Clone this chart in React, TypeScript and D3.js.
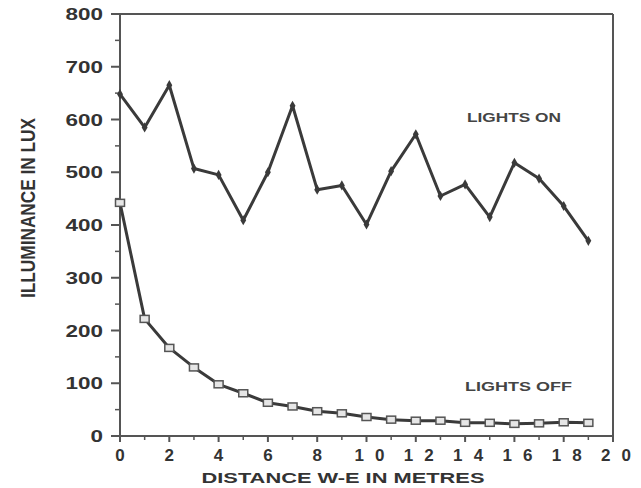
import React from "react";
import * as d3 from "d3";

const distances = [0, 1, 2, 3, 4, 5, 6, 7, 8, 9, 10, 11, 12, 13, 14, 15, 16, 17, 18, 19];
const lightsOn = [648, 585, 665, 507, 495, 409, 500, 626, 467, 475, 401, 502, 572, 455, 477, 415, 518, 488, 436, 370];
const lightsOff = [442, 222, 167, 130, 98, 81, 63, 56, 47, 43, 36, 31, 29, 29, 25, 25, 23, 24, 26, 25];
const yTicks = [0, 100, 200, 300, 400, 500, 600, 700, 800];
const yMinor = [50, 150, 250, 350, 450, 550, 650, 750];
const xTicks = [0, 2, 4, 6, 8, 10, 12, 14, 16, 18, 20];
const xMinor = [1, 3, 5, 7, 9, 11, 13, 15, 17, 19];

const W = 641, H = 488;
const L = 120, R = 613, T = 14, B = 436;
const ink = "#3a3a3a";
const axisInk = "#555";
const font = "'Liberation Sans', Arial, sans-serif";

export default function App() {
  const x = d3.scaleLinear().domain([0, 20]).range([L, R]);
  const y = d3.scaleLinear().domain([0, 800]).range([B, T]);
  const line = d3.line<number>().x((_, i) => x(distances[i])).y((d) => y(d));
  const diamond = d3.symbol().type(d3.symbolDiamond).size(30)();

  return (
    <svg width={W} height={H} style={{ position: "absolute", left: 0, top: 0, background: "#fff" }}>
      <rect width={W} height={H} fill="#fff" />
      {/* frame */}
      <line x1={L} y1={T} x2={L} y2={B} stroke={axisInk} strokeWidth={2} />
      <line x1={L} y1={B} x2={R} y2={B} stroke={axisInk} strokeWidth={2} />
      <line x1={R} y1={T} x2={R} y2={B} stroke={axisInk} strokeWidth={2} />
      <line x1={L - 9} y1={T} x2={R} y2={T} stroke={axisInk} strokeWidth={2} />
      {/* y ticks */}
      {yTicks.map((t) => (
        <g key={"y" + t}>
          <line x1={L - 9} x2={L} y1={y(t)} y2={y(t)} stroke={axisInk} strokeWidth={2} />
          <text x={103} y={y(t) + 6} textAnchor="end" fontFamily={font} fontWeight="bold" fontSize={17}
            fill="#333" textLength={String(t).length * 12.5} lengthAdjust="spacingAndGlyphs">{t}</text>
        </g>
      ))}
      {yMinor.map((t) => (
        <line key={"ym" + t} x1={L - 5} x2={L} y1={y(t)} y2={y(t)} stroke={axisInk} strokeWidth={1.5} />
      ))}
      {/* x ticks */}
      {xTicks.map((t) => (
        <g key={"x" + t}>
          <line x1={x(t)} x2={x(t)} y1={B} y2={B + 6} stroke={axisInk} strokeWidth={2} />
          <text x={x(t) + (String(t).length > 1 ? 3 : 0)} y={B + 25} textAnchor="middle" fontFamily={font} fontWeight="bold" fontSize={17}
            fill="#333" textLength={String(t).length > 1 ? 30 : 12} lengthAdjust="spacing">{t}</text>
        </g>
      ))}
      {xMinor.map((t) => (
        <line key={"xm" + t} x1={x(t)} x2={x(t)} y1={B} y2={B + 4} stroke={axisInk} strokeWidth={1.5} />
      ))}
      {/* axis titles */}
      <text x={343} y={483} textAnchor="middle" fontFamily={font} fontWeight="bold" fontSize={15.5}
        fill="#333" textLength={283} lengthAdjust="spacingAndGlyphs">DISTANCE W-E IN METRES</text>
      <text transform={`translate(35,208) rotate(-90)`} textAnchor="middle" fontFamily={font} fontWeight="bold" fontSize={21}
        fill="#333" textLength={180} lengthAdjust="spacingAndGlyphs">ILLUMINANCE IN LUX</text>
      {/* series */}
      <path d={line(lightsOn) || ""} fill="none" stroke={ink} strokeWidth={3} strokeLinejoin="round" />
      <path d={line(lightsOff) || ""} fill="none" stroke={ink} strokeWidth={3} strokeLinejoin="round" />
      {lightsOn.map((v, i) => (
        <path key={"on" + i} d={diamond || ""} transform={`translate(${x(distances[i])},${y(v)})`} fill={ink} />
      ))}
      {lightsOff.map((v, i) => (
        <rect key={"off" + i} x={x(distances[i]) - 4.5} y={y(v) - 3.5} width={9} height={7} fill="#e6e6e6" stroke="#555" strokeWidth={1.5} />
      ))}
      {/* series labels */}
      <text x={467} y={122} fontFamily={font} fontWeight="bold" fontSize={13.5} fill="#444"
        textLength={94} lengthAdjust="spacingAndGlyphs">LIGHTS ON</text>
      <text x={465} y={391} fontFamily={font} fontWeight="bold" fontSize={13.5} fill="#444"
        textLength={107} lengthAdjust="spacingAndGlyphs">LIGHTS OFF</text>
    </svg>
  );
}
